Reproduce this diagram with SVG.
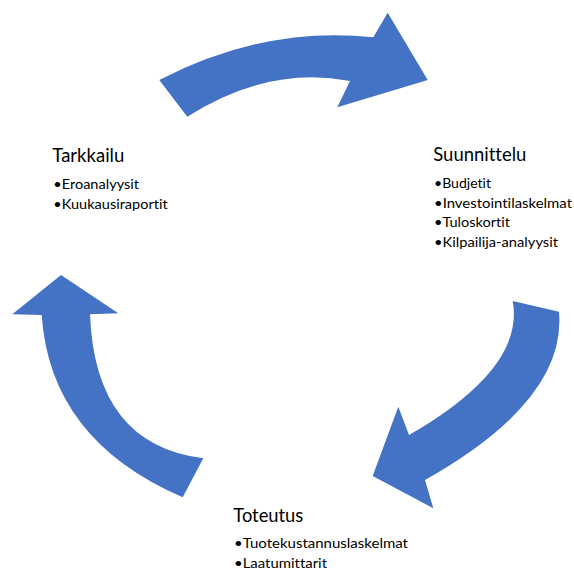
<svg xmlns="http://www.w3.org/2000/svg" width="574" height="570" viewBox="0 0 574 570">
<style>
.arrow{fill:#4472C4;stroke:none}
.title{font-family:Lato,"Liberation Sans",sans-serif;font-size:18.5px;fill:#000;font-variant-ligatures:none}
.item{font-family:Lato,"Liberation Sans",sans-serif;font-size:14px;fill:#000;font-variant-ligatures:none}
</style>
<rect width="574" height="570" fill="#fff"/>
<g id="connectors">
<path class="arrow" d="M159.3,80 Q265.7,25.3 373.3,37.3 L387.7,12.7 L427.7,80 L337.3,107.3 L350,81 Q268.7,65.2 187.3,116.7 Z"/>
<path class="arrow" d="M512.7,301 L559,311.7 Q567,400 425,480 L433.3,508.3 L372.7,476 L398.3,406.7 L409,435 Q525.2,368 512.7,301 Z"/>
<path class="arrow" d="M182.7,497.3 Q50,440 41.7,315 L12.3,314.3 L61,275 L118.3,313.3 L90,314.3 Q95,445 203.3,458.3 Z"/>
</g>
<g id="suunnittelu">
<text class="title" x="433.3" y="161" textLength="93" lengthAdjust="spacingAndGlyphs">Suunnittelu</text>
<text class="item" x="434" y="188" textLength="57" lengthAdjust="spacingAndGlyphs">•Budjetit</text>
<text class="item" x="434" y="207.7" textLength="138" lengthAdjust="spacingAndGlyphs">•Investointilaskelmat</text>
<text class="item" x="434" y="227.4" textLength="76" lengthAdjust="spacingAndGlyphs">•Tuloskortit</text>
<text class="item" x="434" y="247.1" textLength="124" lengthAdjust="spacingAndGlyphs">•Kilpailija-analyysit</text>
</g>
<g id="toteutus">
<text class="title" x="233.3" y="522" textLength="70" lengthAdjust="spacingAndGlyphs">Toteutus</text>
<text class="item" x="234" y="548.3" textLength="174" lengthAdjust="spacingAndGlyphs">•Tuotekustannuslaskelmat</text>
<text class="item" x="234" y="567.7" textLength="93" lengthAdjust="spacingAndGlyphs">•Laatumittarit</text>
</g>
<g id="tarkkailu">
<text class="title" x="52.3" y="161.5" textLength="72" lengthAdjust="spacingAndGlyphs">Tarkkailu</text>
<text class="item" x="53.3" y="189" textLength="85.7" lengthAdjust="spacingAndGlyphs">•Eroanalyysit</text>
<text class="item" x="53.3" y="208.7" textLength="114.4" lengthAdjust="spacingAndGlyphs">•Kuukausiraportit</text>
</g>
</svg>
